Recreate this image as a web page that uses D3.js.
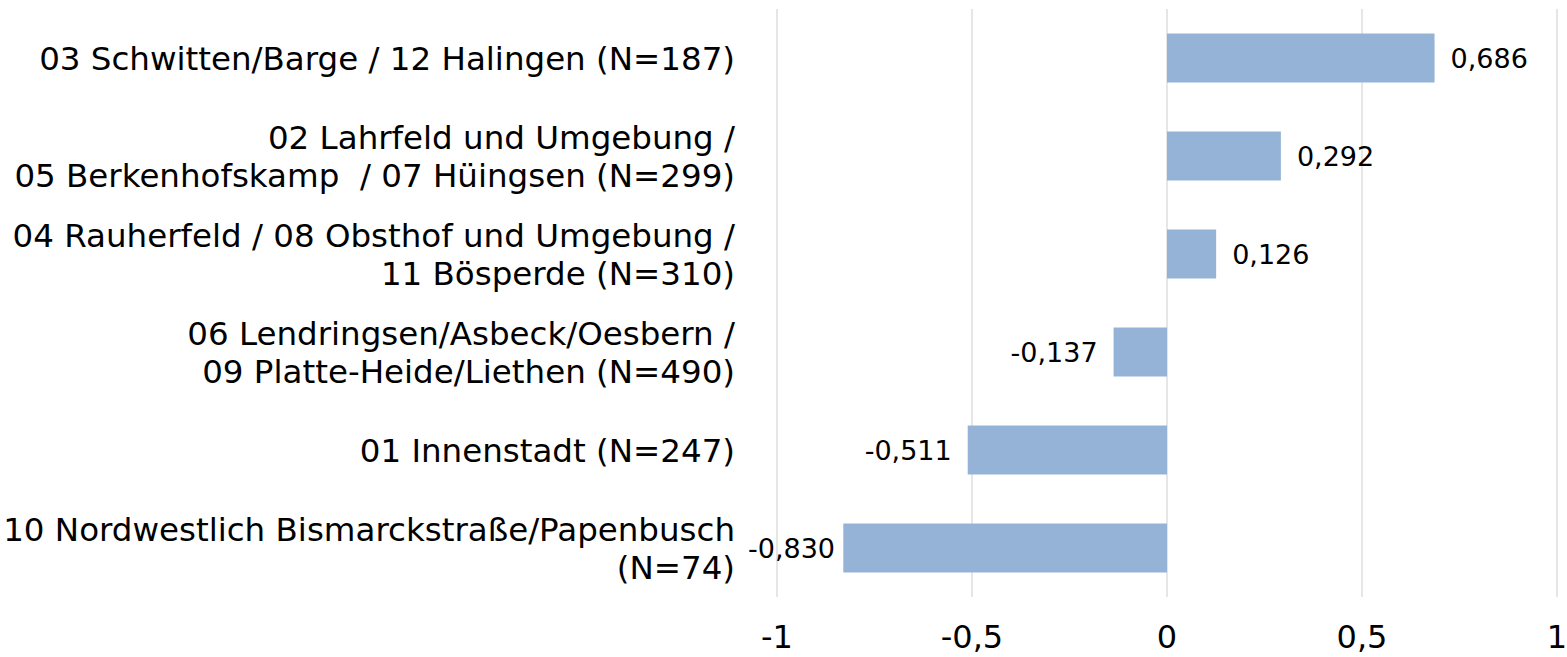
<!DOCTYPE html>
<html><head><meta charset="utf-8">
<script src="https://cdn.jsdelivr.net/npm/d3@7"></script>
<style>body{margin:0;background:#fff}svg{display:block}text{font-family:"DejaVu Sans",Verdana,sans-serif;fill:#000;white-space:pre}</style>
</head><body><svg id="c" width="1567" height="657"></svg>
<script>
const categories = [
  ["03 Schwitten/Barge / 12 Halingen (N=187)"],
  ["02 Lahrfeld und Umgebung /", "05 Berkenhofskamp  / 07 Hüingsen (N=299)"],
  ["04 Rauherfeld / 08 Obsthof und Umgebung /", "11 Bösperde (N=310)"],
  ["06 Lendringsen/Asbeck/Oesbern /", "09 Platte-Heide/Liethen (N=490)"],
  ["01 Innenstadt (N=247)"],
  ["10 Nordwestlich Bismarckstraße/Papenbusch", "(N=74)"]
];
const values = [0.686, 0.292, 0.126, -0.137, -0.511, -0.830];
const tickValues = [-1, -0.5, 0, 0.5, 1];
const tickLabels = ["-1", "-0,5", "0", "0,5", "1"];

const svg = d3.select("#c");
const x = d3.scaleLinear().domain([-1, 1]).range([777, 1557]);
const y = d3.scaleBand().domain(d3.range(categories.length)).range([9, 597]).paddingInner(0.5).paddingOuter(0.25);

// gridlines
svg.append("g").selectAll("line").data(tickValues).join("line")
  .attr("x1", d => x(d)).attr("x2", d => x(d)).attr("y1", 9).attr("y2", 597)
  .attr("stroke", "#d9d9d9").attr("stroke-width", 1.3);

// bars
svg.append("g").selectAll("rect").data(values).join("rect")
  .attr("x", d => x(Math.min(0, d))).attr("width", d => Math.abs(x(d) - x(0)))
  .attr("y", (d, i) => y(i)).attr("height", y.bandwidth())
  .attr("fill", "#95b3d7");

// value labels
const fmt = v => d3.format(".3f")(v).replace(".", ",").replace("−", "-");
svg.append("g").selectAll("text").data(values).join("text")
  .attr("y", (d, i) => y(i) + y.bandwidth() / 2)
  .attr("dy", "0.36em")
  .attr("text-anchor", "start")
  .attr("font-size", 27)
  .text(d => fmt(d))
  .each(function(d) {
    const w = this.getComputedTextLength();
    let xs;
    if (d >= 0) xs = x(d) + 16;
    else xs = Math.max(x(d) - 16 - w, 748);
    d3.select(this).attr("x", xs);
  });

// category labels
const lh = 38;
const cg = svg.append("g").selectAll("text").data(categories).join("text")
  .attr("x", 735)
  .attr("y", (d, i) => y(i) + y.bandwidth() / 2)
  .attr("text-anchor", "end")
  .attr("font-size", 32.5);
cg.each(function(d) {
  const t = d3.select(this);
  const n = d.length;
  d.forEach((line, k) => {
    t.append("tspan").attr("x", 735)
      .attr("dy", k === 0 ? ((-(n - 1) / 2) * lh + 11.5) : lh)
      .text(line);
  });
});

// x-axis tick labels
svg.append("g").selectAll("text").data(tickValues).join("text")
  .attr("x", d => x(d)).attr("y", 648)
  .attr("text-anchor", "middle").attr("font-size", 32)
  .text((d, i) => tickLabels[i]);
</script></body></html>
